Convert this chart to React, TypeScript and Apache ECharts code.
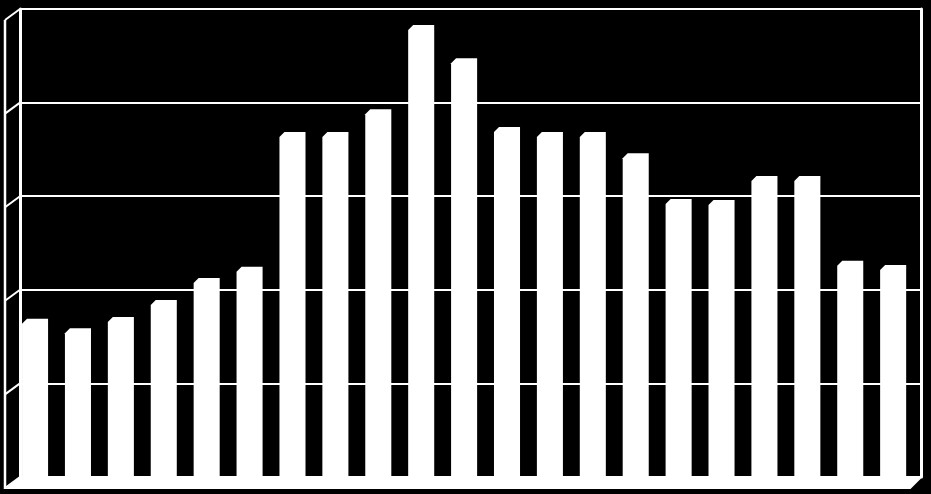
import React, { useEffect, useRef } from 'react';
import * as echarts from 'echarts';

const categories = ['1', '2', '3', '4', '5', '6', '7', '8', '9', '10', '11', '12', '13', '14', '15', '16', '17', '18', '19', '20', '21'];
const values = [33.8, 31.8, 34.2, 37.8, 42.5, 44.9, 73.7, 73.7, 78.6, 96.6, 89.5, 74.8, 73.7, 73.7, 69.2, 59.4, 59.2, 64.3, 64.3, 46.2, 45.3];
const yTicks = [0, 20, 40, 60, 80, 100];

// back wall and 3D depth
const WALL_LEFT = 20;
const WALL_RIGHT = 921;
const TOP = 9;
const PLOT_H = 468;
const DEPTH_X = 15;
const DEPTH_Y = 12;
const BAR_SHIFT = 6.4;

const App: React.FC = () => {
  const chartRef = useRef<HTMLDivElement>(null);

  useEffect(() => {
    if (!chartRef.current) return;
    const chart = echarts.init(chartRef.current, undefined, { renderer: 'svg' });
    const wallW = WALL_RIGHT - WALL_LEFT;

    const option: echarts.EChartsOption = {
      backgroundColor: '#000',
      animation: false,
      grid: [
        { left: WALL_LEFT, top: TOP, width: wallW, height: PLOT_H },
        { left: WALL_LEFT - BAR_SHIFT, top: TOP, width: wallW, height: PLOT_H }
      ],
      xAxis: [
        { gridIndex: 0, type: 'category', data: categories, show: false },
        { gridIndex: 1, type: 'category', data: categories, show: false }
      ],
      yAxis: [
        {
          gridIndex: 0, type: 'value', min: 0, max: 100, interval: 20,
          axisLabel: { show: false }, axisTick: { show: false },
          axisLine: { show: true, lineStyle: { color: '#fff', width: 3 } },
          splitLine: { show: true, lineStyle: { color: '#fff', width: 2 } }
        },
        {
          gridIndex: 0, type: 'value', min: 0, max: 100, interval: 20, position: 'right',
          axisLabel: { show: false }, axisTick: { show: false },
          axisLine: { show: true, lineStyle: { color: '#fff', width: 3 } },
          splitLine: { show: false }
        },
        { gridIndex: 1, type: 'value', min: 0, max: 100, interval: 20, show: false, splitLine: { show: false } }
      ],
      series: [
        {
          type: 'custom',
          xAxisIndex: 1,
          yAxisIndex: 2,
          data: values.map((v, i) => [i, v]),
          encode: { x: 0, y: 1 },
          renderItem: (params: any, api: any) => {
            const top = api.coord([api.value(0), api.value(1)]);
            const base = api.coord([api.value(0), 0]);
            const w = api.size([1, 0])[0] * 0.607;
            const x0 = top[0] - w / 2;
            const x1 = top[0] + w / 2;
            const c = 5;
            return {
              type: 'polygon',
              shape: {
                points: [
                  [x0, top[1] + c],
                  [x0 + c, top[1]],
                  [x1, top[1]],
                  [x1, base[1]],
                  [x0, base[1]]
                ]
              },
              style: { fill: '#fff' }
            };
          }
        }
      ]
    };

    chart.setOption(option);

    // side wall and floor, placed from the axis scale
    const ys = yTicks.map(t => chart.convertToPixel({ yAxisIndex: 0 }, t) as number);
    const yTop = chart.convertToPixel({ yAxisIndex: 0 }, 100) as number;
    const yBase = chart.convertToPixel({ yAxisIndex: 0 }, 0) as number;
    const lineStyle = { stroke: '#fff', lineWidth: 2 };
    const graphic: any[] = [
      {
        type: 'polygon',
        shape: {
          points: [
            [WALL_LEFT, yBase],
            [WALL_RIGHT + 1.5, yBase],
            [WALL_RIGHT + 1.5 - DEPTH_X + 3, yBase + DEPTH_Y],
            [WALL_LEFT - DEPTH_X, yBase + DEPTH_Y]
          ]
        },
        style: { fill: '#fff' },
        z: 10
      },
      {
        type: 'line',
        shape: { x1: WALL_LEFT - DEPTH_X, y1: yTop + DEPTH_Y - 1, x2: WALL_LEFT - DEPTH_X, y2: yBase + DEPTH_Y },
        style: { stroke: '#fff', lineWidth: 2.5 }
      }
    ];
    ys.forEach(y => {
      graphic.push({
        type: 'line',
        shape: { x1: WALL_LEFT, y1: y, x2: WALL_LEFT - DEPTH_X, y2: y + DEPTH_Y - 1 },
        style: lineStyle
      });
    });
    chart.setOption({ graphic });

    return () => {
      chart.dispose();
    };
  }, []);

  return (
    <div
      ref={chartRef}
      style={{ position: 'fixed', left: 0, top: 0, width: 931, height: 494, background: '#000' }}
    />
  );
};

export default App;
